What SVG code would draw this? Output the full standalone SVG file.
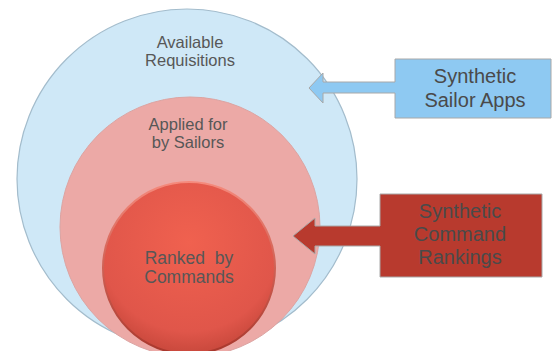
<svg xmlns="http://www.w3.org/2000/svg" width="554" height="351" viewBox="0 0 554 351">
  <defs>
    <radialGradient id="redGrad" cx="0.5" cy="0.35" r="0.65">
      <stop offset="0" stop-color="#f0614f"/>
      <stop offset="0.8" stop-color="#e0564a"/>
      <stop offset="1" stop-color="#c8483c"/>
    </radialGradient>
    <linearGradient id="redEdge" x1="0" y1="0" x2="0" y2="1">
      <stop offset="0" stop-color="#f58a7c"/>
      <stop offset="1" stop-color="#a8372c"/>
    </linearGradient>
  </defs>
  <style>
    text { font-family: "Liberation Sans", Arial, sans-serif; fill: #575757; text-anchor: middle; }
    .c { font-size: 16.5px; }
    .b { font-size: 20px; fill: #4a4a4a; }
  </style>
  <rect width="554" height="351" fill="#ffffff"/>

  <g id="available">
    <circle cx="187" cy="179" r="170" fill="#cfe8f7" stroke="#a3bccc" stroke-width="1.2"/>
    <text class="c" x="190" y="48">Available</text>
    <text class="c" x="190" y="66">Requisitions</text>
  </g>

  <g id="applied">
    <circle cx="190" cy="227" r="130" fill="#eca9a6" stroke="#dca4a2" stroke-width="1"/>
    <text class="c" x="188" y="130">Applied for</text>
    <text class="c" x="188" y="148">by Sailors</text>
  </g>

  <g id="ranked">
    <circle cx="189" cy="268" r="86" fill="url(#redGrad)" stroke="url(#redEdge)" stroke-width="2"/>
    <text class="c" x="189" y="264" style="font-size:17.5px">Ranked&#160; by</text>
    <text class="c" x="189" y="283" style="font-size:17.5px">Commands</text>
  </g>

  <g id="connectors">
    <path d="M395,59 H551 V118 H395 V93 H323 V103 L309,88 L323,73 V82 H395 Z" fill="#8ec9f2" stroke="#a8a8a8" stroke-width="1"/>
    <path d="M380,194 H542 V277 H380 V246 H315 V254 L293,236 L315,218 V226 H380 Z" fill="#b83a2e" stroke="#a8a8a8" stroke-width="1"/>
  </g>

  <g id="sailorApps">
    <text class="b" x="475" y="83">Synthetic</text>
    <text class="b" x="475" y="107">Sailor Apps</text>
  </g>

  <g id="commandRankings">
    <text class="b" x="460" y="218">Synthetic</text>
    <text class="b" x="460" y="241">Command</text>
    <text class="b" x="460" y="264">Rankings</text>
  </g>
</svg>
